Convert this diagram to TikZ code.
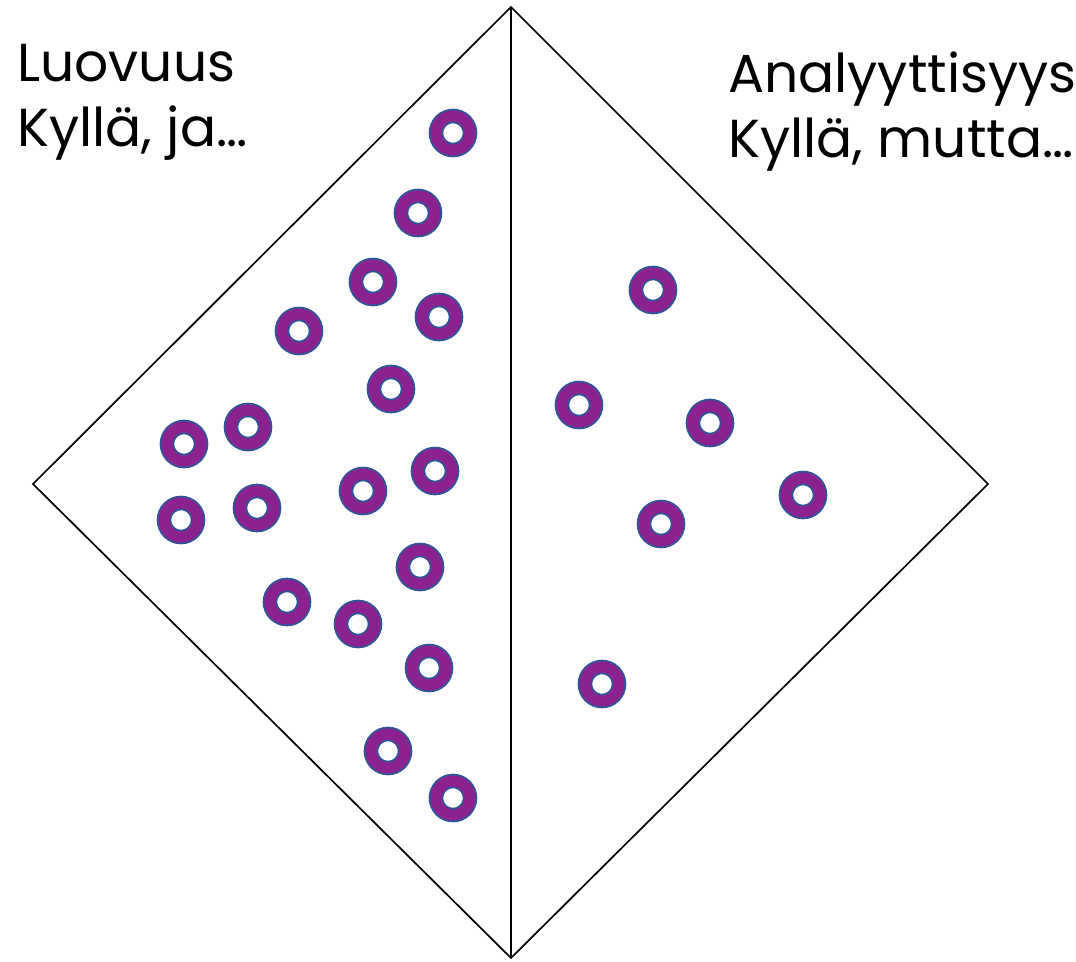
\documentclass[tikz,border=0pt]{standalone}
\usepackage{fontspec}
\setmainfont{Poppins}
\definecolor{ringpurple}{RGB}{140,34,144}
\definecolor{ringblue}{RGB}{47,85,151}
\tikzset{
  ring/.style={circle,minimum size=34pt,inner sep=0pt,fill=white,
    draw=ringblue,line width=1.8pt,double=ringpurple,double distance=11pt},
  label/.style={anchor=base west,inner sep=0pt,font=\fontsize{53.5}{65}\selectfont}
}
\begin{document}
\begin{tikzpicture}[x=1pt,y=-1pt]
\useasboundingbox (0,0) rectangle (1076,961);

  \coordinate (top) at (511,7);
  \coordinate (right) at (988,484);
  \coordinate (bottom) at (511,958);
  \coordinate (left) at (33,484);

  \draw[line width=1.7pt] (top) -- (right) -- (bottom) -- (left) -- cycle;
  \draw[line width=1.7pt] (top) -- (bottom);

  \draw (17,81) node[label] (luo) {Luovuus}
  ++(0,65) node[label] (kylja) {Kyllä, ja…};

  \draw (728,92) node[label] (ana) {Analyyttisyys}
  ++(0,65) node[label] (kylmutta) {Kyllä, mutta…};

  % luovuus side
  \foreach \x/\y [count=\i] in {453/133,418/213,373/282,439/317,299/331,
    391/389,248/427,184/444,435/471,363/491,257/508,181/520,420/567,
    287/602,358/624,429/668,388/751,453/798}
    \node[ring] (l\i) at (\x,\y) {};

  % analyyttisyys side
  \foreach \x/\y [count=\i] in {653/290,579/405,710/423,803/495,661/524,602/684}
    \node[ring] (a\i) at (\x,\y) {};

\end{tikzpicture}
\end{document}
